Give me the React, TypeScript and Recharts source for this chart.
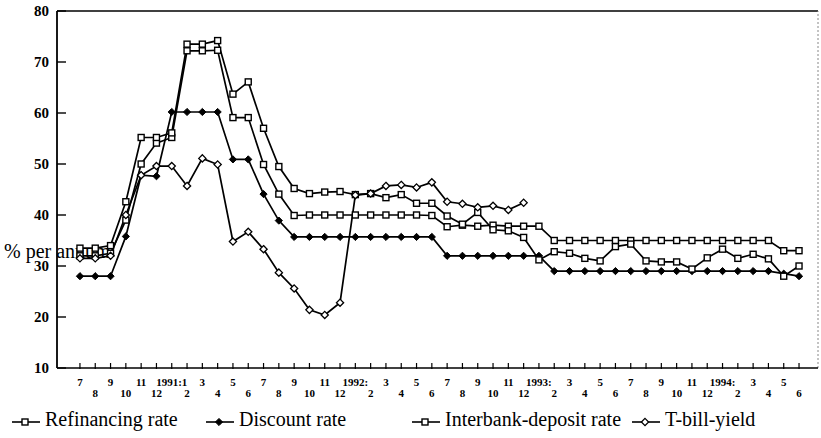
import { Label, Legend, Line, LineChart, ReferenceLine, XAxis, YAxis } from "recharts";

// months from 1990:7 to 1994:6
const monthLabels = [
  "7", "8", "9", "10", "11", "12",
  "1991:1", "2", "3", "4", "5", "6", "7", "8", "9", "10", "11", "12",
  "1992:", "2", "3", "4", "5", "6", "7", "8", "9", "10", "11", "12",
  "1993:", "2", "3", "4", "5", "6", "7", "8", "9", "10", "11", "12",
  "1994:", "2", "3", "4", "5", "6",
];

const refinancing = [
  32, 32, 32.5, 39, 50, 54.1, 55.2, 72.2, 72.2, 72.3, 59.1, 59.1, 49.9, 44.1, 39.9,
  40, 40, 40, 40, 40, 40, 40, 40, 39.9,
  37.7, 38, 37.8, 38, 37.8, 37.8, 37.8,
  35, 35, 35, 35, 35, 35, 35, 35, 35, 35, 35, 35, 35, 35, 35,
  33, 33,
];

const discount = [
  28, 28, 28, 35.8, 47.8, 47.6, 60.2, 60.2, 60.2, 60.2, 50.9, 50.9, 44.1, 38.9,
  35.7, 35.7, 35.7, 35.7, 35.7, 35.7, 35.7, 35.7, 35.7, 35.7,
  32, 32, 32, 32, 32, 32, 32,
  29, 29, 29, 29, 29, 29, 29, 29, 29, 29, 29, 29, 29, 29, 29,
  28.5, 28,
];

const interbank = [
  33.5, 33.5, 34, 42.6, 55.2, 55.2, 56.1, 73.5, 73.5, 74.2, 63.7, 66.1, 57, 49.5, 45.2,
  44.2, 44.5, 44.6, 44, 44.2, 43.4, 44, 42.3, 42.3,
  39.8, 38.2, 40.5, 37.1, 36.9, 35.6, 31.2,
  32.8, 32.5, 31.5, 31, 33.8, 34.3, 31, 30.8, 30.8, 29.4, 31.6, 33.3, 31.5, 32.3, 31.4,
  28, 30,
];

const tbill: (number | null)[] = [
  31.5, 31.5, 32, 40, 47.8, 49.6, 49.6, 45.7, 51.1, 49.9, 34.8, 36.7, 33.3, 28.7, 25.6,
  21.4, 20.4, 22.8, 43.9, 44.2, 45.7, 45.9, 45.4, 46.4,
  42.6, 42.2, 41.5, 41.8, 41, 42.4,
];

const yTicks = [10, 20, 30, 40, 50, 60, 70, 80];

const seriesNames = {
  refinancing: "Refinancing rate",
  discount: "Discount rate",
  interbank: "Interbank-deposit rate",
  tbill: "T-bill-yield",
};

const rows = monthLabels.map((label, i) => ({
  i,
  label,
  refinancing: refinancing[i],
  discount: discount[i],
  interbank: interbank[i],
  tbill: tbill[i] ?? null,
}));

const FONT = '"Liberation Serif", "Times New Roman", serif';
const X_MAX = 48.24;

function Marker({ kind, cx, cy }: { kind: string; cx: number; cy: number }) {
  if (kind === "square") {
    return <rect x={cx - 3} y={cy - 3} width={6} height={6} fill="#fff" stroke="#000" strokeWidth={1.4} />;
  }
  const s = 3.6;
  const pts = `${cx},${cy - s} ${cx + s},${cy} ${cx},${cy + s} ${cx - s},${cy}`;
  if (kind === "diamond") return <polygon points={pts} fill="#000" stroke="#000" strokeWidth={1} />;
  return <polygon points={pts} fill="#fff" stroke="#000" strokeWidth={1.3} />;
}

const makeDot = (kind: string) => (props: any) => {
  const { cx, cy, index, value } = props;
  if (cx == null || cy == null || value == null) return <g key={`${kind}-${index}`} />;
  return (
    <g key={`${kind}-${index}`}>
      <Marker kind={kind} cx={cx} cy={cy} />
    </g>
  );
};

function MonthTick({ x, y, payload }: any) {
  const i = payload.value as number;
  const lower = i % 2 === 1;
  return (
    <g>
      <line x1={x} x2={x} y1={y - 5} y2={y + 1} stroke="#000" strokeWidth={1.2} />
      <text x={x} y={y + (lower ? 29 : 18)} textAnchor="middle" fontSize={11} fontWeight="bold" fontFamily={FONT} fill="#000">
        {monthLabels[i]}
      </text>
    </g>
  );
}

function RateTick({ x, y, payload }: any) {
  return (
    <g>
      <line x1={x} x2={x + 9} y1={y} y2={y} stroke="#000" strokeWidth={1.4} />
      <text x={x - 8} y={y + 5} textAnchor="end" fontSize={15} fontWeight="bold" fontFamily={FONT} fill="#000">
        {payload.value}
      </text>
    </g>
  );
}

const legendLayout = [
  { key: "refinancing", kind: "square", x: 12 },
  { key: "discount", kind: "diamond", x: 206 },
  { key: "interbank", kind: "square", x: 412 },
  { key: "tbill", kind: "open", x: 632 },
];

function LegendRow() {
  return (
    <svg width={821} height={26}>
      {legendLayout.map((it) => (
        <g key={it.key}>
          <line x1={it.x} x2={it.x + 28} y1={16} y2={16} stroke="#000" strokeWidth={1.6} />
          <Marker kind={it.kind} cx={it.x + 13} cy={16} />
          <text x={it.x + 33} y={20} fontSize={20} fontFamily={FONT} fill="#000">
            {seriesNames[it.key as keyof typeof seriesNames]}
          </text>
        </g>
      ))}
    </svg>
  );
}

export default function App() {
  return (
    <div style={{ position: "absolute", left: 0, top: 0, width: 821, height: 438, background: "#fff" }}>
      <LineChart width={821} height={438} data={rows} margin={{ top: 11, right: 3, left: 0, bottom: 0 }}>
        <XAxis
          dataKey="i"
          type="number"
          domain={[-1.5, X_MAX]}
          allowDataOverflow
          ticks={rows.map((r) => r.i)}
          interval={0}
          height={70}
          tickSize={0}
          tickMargin={0}
          tickLine={false}
          tick={<MonthTick />}
          axisLine={{ stroke: "#000", strokeWidth: 1.6 }}
        />
        <YAxis
          type="number"
          domain={[10, 80]}
          ticks={yTicks}
          interval={0}
          width={57}
          tickSize={0}
          tickMargin={0}
          tickLine={false}
          tick={<RateTick />}
          axisLine={{ stroke: "#000", strokeWidth: 1.8 }}
        >
          <Label
            content={() => (
              <text x={4} y={258} fontSize={20} fontFamily={FONT} fill="#000">
                % per annum
              </text>
            )}
          />
        </YAxis>
        <ReferenceLine y={80} stroke="#000" strokeWidth={1.6} />
        <ReferenceLine x={X_MAX} stroke="#888" strokeWidth={1} strokeDasharray="2 2" />
        <Line dataKey="refinancing" name={seriesNames.refinancing} stroke="#000" strokeWidth={1.7} dot={makeDot("square")} isAnimationActive={false} />
        <Line dataKey="discount" name={seriesNames.discount} stroke="#000" strokeWidth={1.7} dot={makeDot("diamond")} isAnimationActive={false} />
        <Line dataKey="interbank" name={seriesNames.interbank} stroke="#000" strokeWidth={1.7} dot={makeDot("square")} isAnimationActive={false} />
        <Line dataKey="tbill" name={seriesNames.tbill} stroke="#000" strokeWidth={1.7} dot={makeDot("open")} isAnimationActive={false} />
        <Legend
          layout="horizontal"
          verticalAlign="middle"
          align="center"
          wrapperStyle={{ top: 406, left: 0, width: 821, height: 26 }}
          content={() => <LegendRow />}
        />
      </LineChart>
    </div>
  );
}
